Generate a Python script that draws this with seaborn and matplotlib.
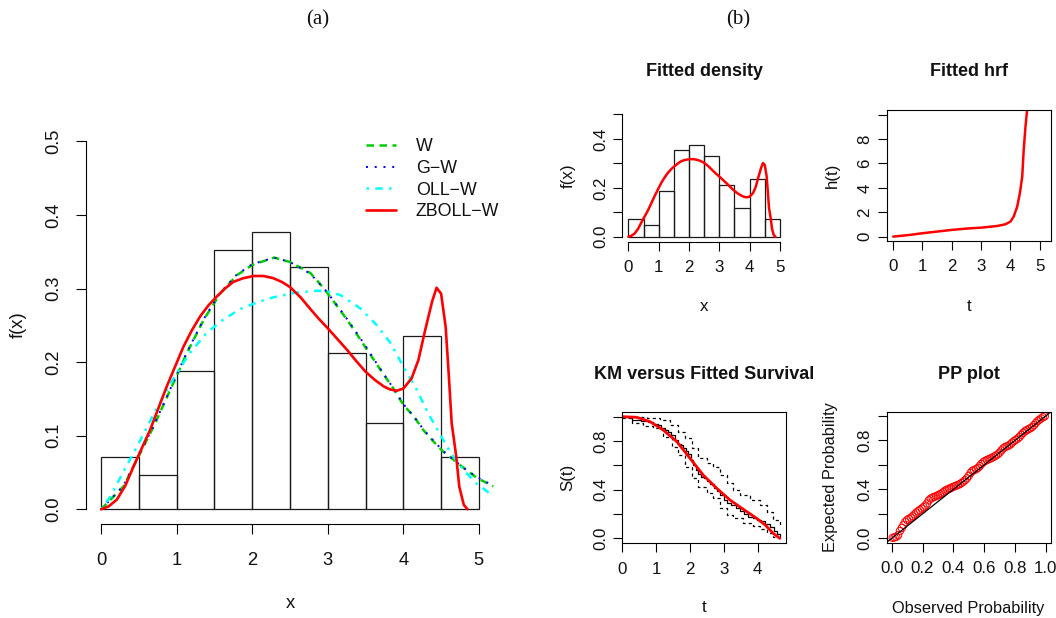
import numpy as np
import pandas as pd
import matplotlib
matplotlib.use("Agg")
import matplotlib.pyplot as plt
import seaborn as sns

# ---------------- data ----------------
bin_edges = [0.0, 0.5, 1.0, 1.5, 2.0, 2.5, 3.0, 3.5, 4.0, 4.5, 5.0]
bin_mids = [0.25, 0.75, 1.25, 1.75, 2.25, 2.75, 3.25, 3.75, 4.25, 4.75]
hist_density = [0.0706, 0.0471, 0.1882, 0.3529, 0.3765, 0.3294, 0.2118, 0.1176, 0.2353, 0.0706]

w_x = [0, 0.296, 0.472, 0.693, 0.914, 1.134, 1.355, 1.575, 1.796, 2.0, 2.29, 2.5, 2.77, 2.95, 3.08,
       3.21, 3.34, 3.48, 3.61, 3.74, 3.87, 4.0, 4.14, 4.27, 4.40, 4.53, 4.67, 4.80, 4.97, 5.19]
w_y = [0, 0.031, 0.067, 0.112, 0.162, 0.212, 0.257, 0.293, 0.318, 0.332, 0.342, 0.336, 0.321, 0.300, 0.282,
       0.264, 0.245, 0.223, 0.203, 0.183, 0.164, 0.142, 0.126, 0.107, 0.092, 0.078, 0.067, 0.056, 0.043, 0.031]

gw_x = [0, 0.296, 0.472, 0.693, 0.914, 1.134, 1.355, 1.575, 1.796, 2.0, 2.29, 2.5, 2.77, 2.95, 3.08,
        3.21, 3.34, 3.48, 3.61, 3.74, 3.87, 4.0, 4.14, 4.27, 4.40, 4.53, 4.67, 4.80, 4.97, 5.19]
gw_y = [0, 0.032, 0.068, 0.113, 0.163, 0.213, 0.258, 0.294, 0.319, 0.333, 0.342, 0.336, 0.320, 0.300, 0.283,
        0.265, 0.246, 0.225, 0.204, 0.184, 0.164, 0.143, 0.126, 0.108, 0.093, 0.079, 0.067, 0.056, 0.044, 0.032]

oll_x = [0, 0.12, 0.30, 0.50, 0.75, 1.0, 1.18, 1.40, 1.62, 1.84, 2.06, 2.28, 2.55, 2.86, 3.0,
         3.17, 3.43, 3.65, 3.83, 4.0, 4.18, 4.33, 4.49, 4.62, 4.80, 4.97, 5.19]
oll_y = [0, 0.017, 0.052, 0.090, 0.140, 0.185, 0.213, 0.240, 0.258, 0.272, 0.281, 0.288, 0.294, 0.297, 0.296,
         0.291, 0.273, 0.250, 0.226, 0.194, 0.162, 0.130, 0.101, 0.078, 0.053, 0.035, 0.018]

zb_x = [0, 0.10, 0.207, 0.32, 0.428, 0.649, 0.869, 1.09, 1.20, 1.31, 1.42, 1.53, 1.64, 1.75, 1.88, 2.02, 2.15,
        2.28, 2.39, 2.50, 2.64, 2.77, 2.88, 3.0, 3.13, 3.26, 3.38, 3.5, 3.62, 3.74, 3.82, 3.91, 4.0, 4.11,
        4.2, 4.29, 4.38, 4.44, 4.5, 4.56, 4.60, 4.64, 4.70, 4.74, 4.80, 4.85]
zb_y = [0, 0.004, 0.013, 0.032, 0.058, 0.108, 0.167, 0.221, 0.243, 0.262, 0.277, 0.289, 0.300, 0.309, 0.314,
        0.317, 0.317, 0.314, 0.309, 0.302, 0.288, 0.272, 0.259, 0.246, 0.231, 0.216, 0.201, 0.187, 0.176,
        0.167, 0.163, 0.161, 0.164, 0.178, 0.203, 0.244, 0.282, 0.301, 0.293, 0.248, 0.185, 0.117, 0.072,
        0.031, 0.006, 0.0]

hrf_t = [0.02, 0.59, 0.99, 1.5, 2.01, 2.52, 3.03, 3.55, 3.83, 4.0, 4.11, 4.23, 4.32, 4.40, 4.45, 4.51, 4.57]
hrf_h = [0, 0.14, 0.27, 0.41, 0.55, 0.66, 0.74, 0.87, 1.01, 1.23, 1.64, 2.46, 3.55, 4.91, 7.1, 9.0, 10.5]

km_t = [0, 0.30, 0.55, 0.75, 0.92, 1.05, 1.15, 1.25, 1.35, 1.45, 1.55, 1.65, 1.72, 1.80, 1.88, 1.95, 2.02,
        2.10, 2.18, 2.25, 2.33, 2.42, 2.50, 2.60, 2.70, 2.80, 2.90, 3.00, 3.10, 3.22, 3.35, 3.48, 3.60, 3.72,
        3.85, 3.97, 4.10, 4.22, 4.35, 4.47, 4.58, 4.65]
km_s = [1.0, 0.976, 0.965, 0.953, 0.941, 0.929, 0.906, 0.894, 0.871, 0.847, 0.812, 0.776, 0.765, 0.741, 0.718,
        0.694, 0.647, 0.600, 0.565, 0.529, 0.506, 0.494, 0.471, 0.447, 0.412, 0.388, 0.353, 0.318, 0.294, 0.271,
        0.247, 0.224, 0.200, 0.176, 0.165, 0.153, 0.141, 0.118, 0.094, 0.059, 0.035, 0.0]

ci_up_t = [0, 0.72, 1.10, 1.41, 1.66, 1.85, 2.05, 2.25, 2.49, 2.69, 2.89, 3.08, 3.28, 3.48, 3.77, 4.07, 4.27, 4.46, 4.65]
ci_up_s = [1.0, 0.99, 0.973, 0.93, 0.877, 0.822, 0.74, 0.658, 0.616, 0.589, 0.52, 0.452, 0.397, 0.356, 0.315,
           0.274, 0.219, 0.151, 0.09]
ci_lo_t = [0, 0.30, 0.62, 0.92, 1.21, 1.46, 1.66, 1.85, 2.05, 2.25, 2.49, 2.69, 2.89, 3.08, 3.28, 3.58, 3.87,
           4.07, 4.27, 4.46, 4.61]
ci_lo_s = [0.986, 0.945, 0.923, 0.904, 0.836, 0.753, 0.685, 0.589, 0.493, 0.425, 0.37, 0.329, 0.247, 0.192,
           0.164, 0.129, 0.101, 0.074, 0.041, 0.014, 0.0]

surv_t = [0, 0.42, 0.82, 1.21, 1.61, 2.0, 2.39, 2.79, 3.18, 3.58, 3.97, 4.22, 4.46, 4.65]
surv_s = [1.0, 0.995, 0.959, 0.89, 0.795, 0.658, 0.52, 0.411, 0.315, 0.238, 0.164, 0.110, 0.041, 0.0]

pp_obs = [0.006, 0.018, 0.029, 0.041, 0.053, 0.065, 0.076, 0.088, 0.100, 0.112, 0.124, 0.135, 0.147, 0.159,
          0.171, 0.182, 0.194, 0.206, 0.218, 0.229, 0.241, 0.253, 0.265, 0.276, 0.288, 0.300, 0.312, 0.324,
          0.335, 0.347, 0.359, 0.371, 0.382, 0.394, 0.406, 0.418, 0.429, 0.441, 0.453, 0.465, 0.476, 0.488,
          0.500, 0.512, 0.524, 0.535, 0.547, 0.559, 0.571, 0.582, 0.594, 0.606, 0.618, 0.629, 0.641, 0.653,
          0.665, 0.676, 0.688, 0.700, 0.712, 0.724, 0.735, 0.747, 0.759, 0.771, 0.782, 0.794, 0.806, 0.818,
          0.829, 0.841, 0.853, 0.865, 0.876, 0.888, 0.900, 0.912, 0.924, 0.935, 0.947, 0.959, 0.971, 0.982, 0.994]
pp_exp = [0.004, 0.008, 0.012, 0.025, 0.060, 0.085, 0.110, 0.135, 0.150, 0.160, 0.168, 0.180, 0.195, 0.210,
          0.222, 0.232, 0.243, 0.255, 0.268, 0.285, 0.310, 0.325, 0.333, 0.338, 0.345, 0.352, 0.360, 0.368,
          0.378, 0.390, 0.398, 0.405, 0.410, 0.418, 0.424, 0.430, 0.436, 0.442, 0.452, 0.463, 0.475, 0.490,
          0.510, 0.535, 0.552, 0.558, 0.565, 0.575, 0.590, 0.608, 0.622, 0.632, 0.640, 0.646, 0.652, 0.660,
          0.668, 0.676, 0.686, 0.700, 0.718, 0.735, 0.745, 0.752, 0.758, 0.768, 0.782, 0.795, 0.805, 0.815,
          0.828, 0.845, 0.862, 0.875, 0.884, 0.892, 0.900, 0.910, 0.925, 0.942, 0.958, 0.970, 0.980, 0.990, 0.998]

# ---------------- style ----------------
sns.set_theme(style="white")
plt.rcParams["font.family"] = ["Liberation Sans", "DejaVu Sans"]
plt.rcParams["axes.linewidth"] = 0.8
plt.rcParams["axes.edgecolor"] = "black"

W, H = 1056, 618
fig = plt.figure(figsize=(W / 100, H / 100), dpi=100)
fig.patch.set_facecolor("white")


def px_axes(l, t, r, b):
    return fig.add_axes([l / W, 1 - b / H, (r - l) / W, (b - t) / H])


def style_axes(ax, fs, ticklen, xpad, ypad, box):
    ax.set_facecolor("white")
    ax.grid(False)
    ax.tick_params(axis="both", direction="out", length=ticklen, width=0.8, color="black",
                   labelsize=fs, labelcolor="#111111", bottom=True, left=True)
    ax.tick_params(axis="x", pad=xpad)
    ax.tick_params(axis="y", pad=ypad, labelrotation=90)
    for lab in ax.get_yticklabels():
        lab.set_va("center")
    for s in ["top", "right", "left", "bottom"]:
        ax.spines[s].set_visible(True if box else s in ("left", "bottom"))
        ax.spines[s].set_color("black")
        ax.spines[s].set_linewidth(0.8)


def set_labels(ax, xl, yl, xpos, ypos, fs):
    ax.set_xlabel(xl, fontsize=fs, color="#111111")
    ax.set_ylabel(yl, fontsize=fs, color="#111111")
    ax.xaxis.set_label_coords(xpos[0] / W, 1 - xpos[1] / H, transform=fig.transFigure)
    ax.yaxis.set_label_coords(ypos[0] / W, 1 - ypos[1] / H, transform=fig.transFigure)
    ax.xaxis.label.set_va("center")
    ax.yaxis.label.set_va("center")


def hist(ax):
    sns.histplot(x=bin_mids, weights=hist_density, bins=bin_edges, stat="count", fill=False,
                 color="#1a1a1a", linewidth=0.9, ax=ax)


# ---------------- (a) main panel ----------------
ax = px_axes(86, 126.6, 494, 524)
hist(ax)
sns.lineplot(x=w_x, y=w_y, sort=False, estimator=None, color="#00CD00", linewidth=1.8,
             linestyle=(0, (3, 2.2)), label="W", ax=ax)
sns.lineplot(x=gw_x, y=gw_y, sort=False, estimator=None, color="blue", linewidth=1.4,
             linestyle=(0, (1, 3.5)), label="G\u2212W", ax=ax)
sns.lineplot(x=oll_x, y=oll_y, sort=False, estimator=None, color="cyan", linewidth=1.8,
             linestyle=(0, (1, 2.5, 3, 2.5)), label="OLL\u2212W", ax=ax)
sns.lineplot(x=zb_x, y=zb_y, sort=False, estimator=None, color="red", linewidth=1.9,
             label="ZBOLL\u2212W", ax=ax)
ax.set_xlim(-0.2, 5.2)
ax.set_ylim(-0.02, 0.52)
ax.set_xticks([0, 1, 2, 3, 4, 5])
ax.set_yticks([0, 0.1, 0.2, 0.3, 0.4, 0.5])
ax.set_yticklabels(["0.0", "0.1", "0.2", "0.3", "0.4", "0.5"])
style_axes(ax, 13.2, 7.5, 12.5, 9.5, box=False)
ax.spines["left"].set_bounds(0, 0.5)
ax.spines["bottom"].set_bounds(0, 5)
set_labels(ax, "x", "f(x)", (290, 604), (18, 325), 13.2)
leg = ax.legend(loc="upper left", bbox_to_anchor=(366 / W, 1 - 138 / H),
                bbox_transform=fig.transFigure, frameon=False, fontsize=12.8,
                handlelength=1.7, handletextpad=1.1, labelspacing=0.27,
                borderpad=0, borderaxespad=0)
for t in leg.get_texts():
    t.set_color("#111111")

fig.text(318 / W, 1 - 20 / H, "(a)", family=["Liberation Serif", "DejaVu Serif"], fontsize=15,
         ha="center", va="center", color="#111111")
fig.text(738 / W, 1 - 20 / H, "(b)", family=["Liberation Serif", "DejaVu Serif"], fontsize=15,
         ha="center", va="center", color="#111111")

SFS = 12.2
# ---------------- Fitted density ----------------
ax = px_axes(622.3, 109.5, 786, 241.6)
hist(ax)
sns.lineplot(x=zb_x, y=zb_y, sort=False, estimator=None, color="red", linewidth=1.8, ax=ax)
ax.set_xlim(-0.2, 5.2)
ax.set_ylim(-0.02, 0.52)
ax.set_xticks([0, 1, 2, 3, 4, 5])
ax.set_yticks([0, 0.1, 0.2, 0.3, 0.4, 0.5])
ax.set_yticklabels(["0.0", "", "0.2", "", "0.4", ""])
style_axes(ax, SFS, 6.7, 6.5, 3.5, box=False)
ax.spines["left"].set_bounds(0, 0.5)
ax.spines["bottom"].set_bounds(0, 5)
set_labels(ax, "x", "f(x)", (704, 306.7), (568, 175.5), SFS)
ax.set_title("Fitted density", fontsize=13, fontweight="bold", y=1 + 37.5 / 132, va="center", pad=0,
             color="#111111")

# ---------------- Fitted hrf ----------------
ax = px_axes(886.7, 110, 1050.5, 241)
sns.lineplot(x=hrf_t, y=hrf_h, sort=False, estimator=None, color="red", linewidth=1.8, ax=ax)
ax.set_xlim(-0.2, 5.36)
ax.set_ylim(-0.36, 10.38)
ax.set_xticks([0, 1, 2, 3, 4, 5])
ax.set_yticks([0, 2, 4, 6, 8, 10])
ax.set_yticklabels(["0", "2", "4", "6", "8", ""])
style_axes(ax, SFS, 6.7, 6.5, 3.5, box=True)
set_labels(ax, "t", "h(t)", (968.6, 306.7), (832, 175.5), SFS)
ax.set_title("Fitted hrf", fontsize=13, fontweight="bold", y=1 + 38.3 / 131, va="center", pad=0,
             color="#111111")

# ---------------- KM versus fitted survival ----------------
ax = px_axes(622.3, 411.8, 786, 543.2)
sns.lineplot(x=km_t, y=km_s, sort=False, estimator=None, color="black", linewidth=0.9,
             drawstyle="steps-post", ax=ax)
sns.lineplot(x=ci_up_t, y=ci_up_s, sort=False, estimator=None, color="black", linewidth=0.9,
             linestyle=(0, (2.5, 2.5)), drawstyle="steps-post", ax=ax)
sns.lineplot(x=ci_lo_t, y=ci_lo_s, sort=False, estimator=None, color="black", linewidth=0.9,
             linestyle=(0, (2.5, 2.5)), drawstyle="steps-post", ax=ax)
sns.lineplot(x=surv_t, y=surv_s, sort=False, estimator=None, color="red", linewidth=2.0, ax=ax)
ax.set_xlim(0, 4.836)
ax.set_ylim(-0.04, 1.04)
ax.set_xticks([0, 1, 2, 3, 4])
ax.set_yticks([0, 0.2, 0.4, 0.6, 0.8, 1.0])
ax.set_yticklabels(["0.0", "", "0.4", "", "0.8", ""])
style_axes(ax, SFS, 6.7, 6.5, 3.5, box=True)
set_labels(ax, "t", "S(t)", (704, 608), (568, 477.5), SFS)
ax.set_title("KM versus Fitted Survival", fontsize=13, fontweight="bold", y=1 + 37 / 131.4, va="center",
             pad=0, color="#111111")

# ---------------- PP plot ----------------
ax = px_axes(886.7, 411.7, 1050.5, 542.7)
sns.scatterplot(x=pp_obs, y=pp_exp, marker="o", s=28, facecolor="none", edgecolor="red",
                linewidth=0.7, ax=ax)
ax.axline((0, 0), (1, 1), color="black", linewidth=0.9)
ax.set_xlim(-0.033, 1.031)
ax.set_ylim(-0.036, 1.035)
ax.set_xticks([0, 0.2, 0.4, 0.6, 0.8, 1.0])
ax.set_xticklabels(["0.0", "0.2", "0.4", "0.6", "0.8", "1.0"])
ax.set_yticks([0, 0.2, 0.4, 0.6, 0.8, 1.0])
ax.set_yticklabels(["0.0", "", "0.4", "", "0.8", ""])
style_axes(ax, SFS, 6.7, 6.5, 3.5, box=True)
set_labels(ax, "Observed Probability", "Expected Probability", (968.6, 608), (830, 477.2), 11.8)
ax.set_title("PP plot", fontsize=13, fontweight="bold", y=1 + 36.7 / 131, va="center", pad=0,
             color="#111111")

fig.savefig("out.png", dpi=100, facecolor="white")
